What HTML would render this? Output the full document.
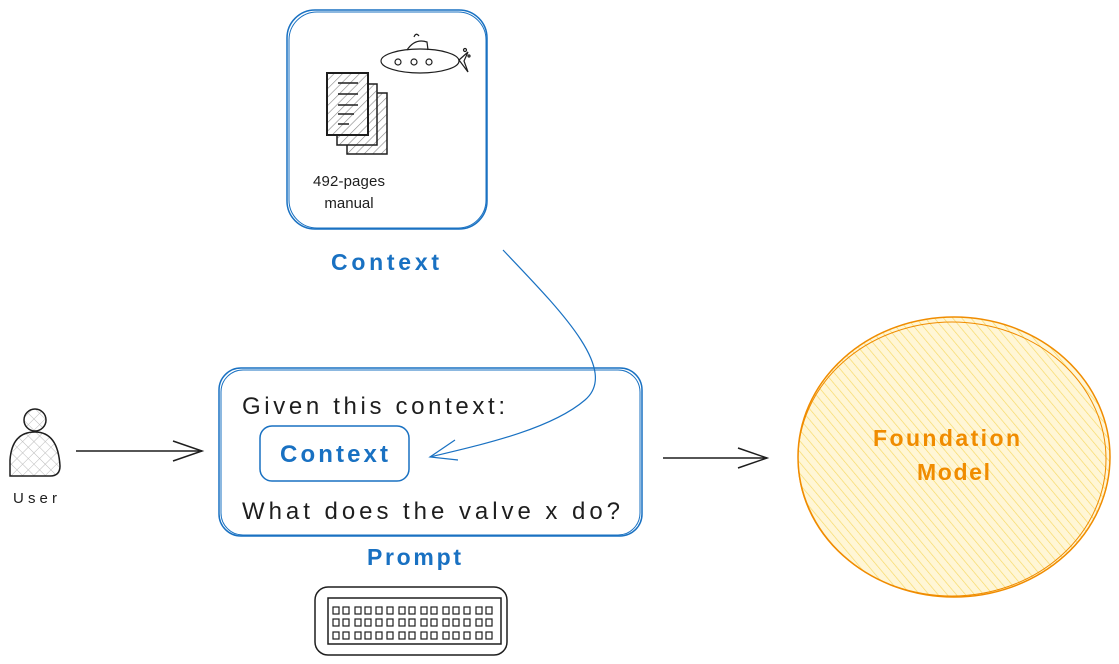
<!DOCTYPE html>
<html><head><meta charset="utf-8"><style>
html,body{margin:0;padding:0;background:#fff;width:1119px;height:664px;overflow:hidden}
text{font-family:"Liberation Sans",sans-serif}
</style></head><body>
<svg width="1119" height="664" viewBox="0 0 1119 664" xmlns="http://www.w3.org/2000/svg">
<defs>
<pattern id="h" width="6" height="6" patternUnits="userSpaceOnUse" patternTransform="rotate(45)"><rect width="6" height="6" fill="#fff"/><line x1="0" y1="0" x2="0" y2="6" stroke="#888" stroke-width="1.2"/></pattern>
<pattern id="y" width="7" height="7" patternUnits="userSpaceOnUse" patternTransform="rotate(-40)"><rect width="7" height="7" fill="#fff6d6"/><line x1="0" y1="0" x2="0" y2="7" stroke="#f7d862" stroke-width="1.3"/></pattern>
<pattern id="x" width="8" height="8" patternUnits="userSpaceOnUse" patternTransform="rotate(45)"><line x1="0" y1="0" x2="0" y2="8" stroke="#bbb"/><line x1="0" y1="0" x2="8" y2="0" stroke="#bbb"/></pattern>
</defs>
<rect x="287" y="10" width="200" height="219" rx="28" fill="none" stroke="#1971c2" stroke-width="1.5"/>
<rect x="289" y="12" width="197" height="216" rx="28" fill="none" stroke="#1971c2" stroke-width="1"/>
<rect x="347" y="93" width="40" height="61" fill="url(#h)" stroke="#1e1e1e" stroke-width="1.5"/>
<rect x="337" y="84" width="40" height="61" fill="url(#h)" stroke="#1e1e1e" stroke-width="1.5"/>
<rect x="327" y="73" width="41" height="62" fill="url(#h)" stroke="#1e1e1e" stroke-width="2"/>
<g stroke="#1e1e1e" stroke-width="1.5"><line x1="338" y1="83" x2="358" y2="83"/><line x1="338" y1="94" x2="358" y2="94"/><line x1="338" y1="105" x2="358" y2="105"/><line x1="338" y1="114" x2="354" y2="114"/><line x1="338" y1="124" x2="349" y2="124"/></g>
<g fill="none" stroke="#1e1e1e" stroke-width="1.2">
<ellipse cx="420" cy="61" rx="39" ry="12"/>
<path d="M407 50 Q415 38 427 42 L428 50"/>
<circle cx="398" cy="62" r="3"/><circle cx="414" cy="62" r="3"/><circle cx="429" cy="62" r="3"/>
<path d="M459 60 L468 52 L464 61 L468 72 Z"/>
<circle cx="465" cy="50" r="1.5"/><circle cx="469" cy="56" r="1"/>
<path d="M414 37 q2 -5 5 -1"/>
</g>
<text x="313" y="186" font-size="15" textLength="72" fill="#1e1e1e">492-pages</text>
<text x="349" y="208" font-size="15" text-anchor="middle" fill="#1e1e1e">manual</text>
<text x="331" y="270" font-size="23" textLength="108" fill="#1971c2" font-weight="bold">Context</text>
<path d="M503 250 C560 310 620 370 585 400 C550 430 480 445 430 457" fill="none" stroke="#1971c2" stroke-width="1.2"/>
<path d="M455 440 L430 457 L458 460" fill="none" stroke="#1971c2" stroke-width="1.2"/>
<rect x="219" y="368" width="423" height="168" rx="22" fill="none" stroke="#1971c2" stroke-width="1.5"/>
<rect x="221" y="370" width="419" height="165" rx="22" fill="none" stroke="#1971c2" stroke-width="1"/>
<text x="242" y="414" font-size="24" textLength="263" fill="#1e1e1e">Given this context:</text>
<rect x="260" y="426" width="149" height="55" rx="12" fill="none" stroke="#1971c2" stroke-width="1.5"/>
<text x="280" y="462" font-size="24" textLength="108" fill="#1971c2" font-weight="bold">Context</text>
<text x="242" y="519" font-size="24" textLength="378" fill="#1e1e1e">What does the valve x do?</text>
<text x="367" y="565" font-size="23" textLength="94" fill="#1971c2" font-weight="bold">Prompt</text>
<circle cx="35" cy="420" r="11" fill="url(#x)" stroke="#1e1e1e" stroke-width="1.5"/>
<path d="M10 476 L10 460 Q12 432 35 432 Q58 432 60 466 Q60 476 50 476 Z" fill="url(#x)" stroke="#1e1e1e" stroke-width="1.5"/>
<text x="13" y="503" font-size="15" textLength="44" fill="#1e1e1e">User</text>
<g fill="none" stroke="#1e1e1e" stroke-width="1.5">
<line x1="76" y1="451" x2="202" y2="451"/><path d="M173 441 L202 451 L173 461"/>
<line x1="663" y1="458" x2="767" y2="458"/><path d="M738 448 L767 458 L738 468"/>
</g>
<ellipse cx="954" cy="457" rx="156" ry="140" fill="url(#y)" stroke="#f08c00" stroke-width="1.5"/>
<ellipse cx="952" cy="459" rx="154" ry="137" fill="none" stroke="#f08c00" stroke-width="1"/>
<text x="873" y="446" font-size="23" textLength="147" fill="#f08c00" font-weight="bold">Foundation</text>
<text x="917" y="480" font-size="23" textLength="73" fill="#f08c00" font-weight="bold">Model</text>
<rect x="315" y="587" width="192" height="68" rx="13" fill="none" stroke="#1e1e1e" stroke-width="1.5"/>
<rect x="328" y="598" width="173" height="46" fill="none" stroke="#1e1e1e" stroke-width="1.5"/>
<g fill="none" stroke="#1e1e1e" stroke-width="1.2">
<rect x="333" y="607" width="6" height="7"/><rect x="343" y="607" width="6" height="7"/><rect x="355" y="607" width="6" height="7"/><rect x="365" y="607" width="6" height="7"/><rect x="376" y="607" width="6" height="7"/><rect x="387" y="607" width="6" height="7"/><rect x="399" y="607" width="6" height="7"/><rect x="409" y="607" width="6" height="7"/><rect x="421" y="607" width="6" height="7"/><rect x="431" y="607" width="6" height="7"/><rect x="443" y="607" width="6" height="7"/><rect x="453" y="607" width="6" height="7"/><rect x="464" y="607" width="6" height="7"/><rect x="476" y="607" width="6" height="7"/><rect x="486" y="607" width="6" height="7"/>
<rect x="333" y="619" width="6" height="7"/><rect x="343" y="619" width="6" height="7"/><rect x="355" y="619" width="6" height="7"/><rect x="365" y="619" width="6" height="7"/><rect x="376" y="619" width="6" height="7"/><rect x="387" y="619" width="6" height="7"/><rect x="399" y="619" width="6" height="7"/><rect x="409" y="619" width="6" height="7"/><rect x="421" y="619" width="6" height="7"/><rect x="431" y="619" width="6" height="7"/><rect x="443" y="619" width="6" height="7"/><rect x="453" y="619" width="6" height="7"/><rect x="464" y="619" width="6" height="7"/><rect x="476" y="619" width="6" height="7"/><rect x="486" y="619" width="6" height="7"/>
<rect x="333" y="632" width="6" height="7"/><rect x="343" y="632" width="6" height="7"/><rect x="355" y="632" width="6" height="7"/><rect x="365" y="632" width="6" height="7"/><rect x="376" y="632" width="6" height="7"/><rect x="387" y="632" width="6" height="7"/><rect x="399" y="632" width="6" height="7"/><rect x="409" y="632" width="6" height="7"/><rect x="421" y="632" width="6" height="7"/><rect x="431" y="632" width="6" height="7"/><rect x="443" y="632" width="6" height="7"/><rect x="453" y="632" width="6" height="7"/><rect x="464" y="632" width="6" height="7"/><rect x="476" y="632" width="6" height="7"/><rect x="486" y="632" width="6" height="7"/>
</g>
</svg>
</body></html>
